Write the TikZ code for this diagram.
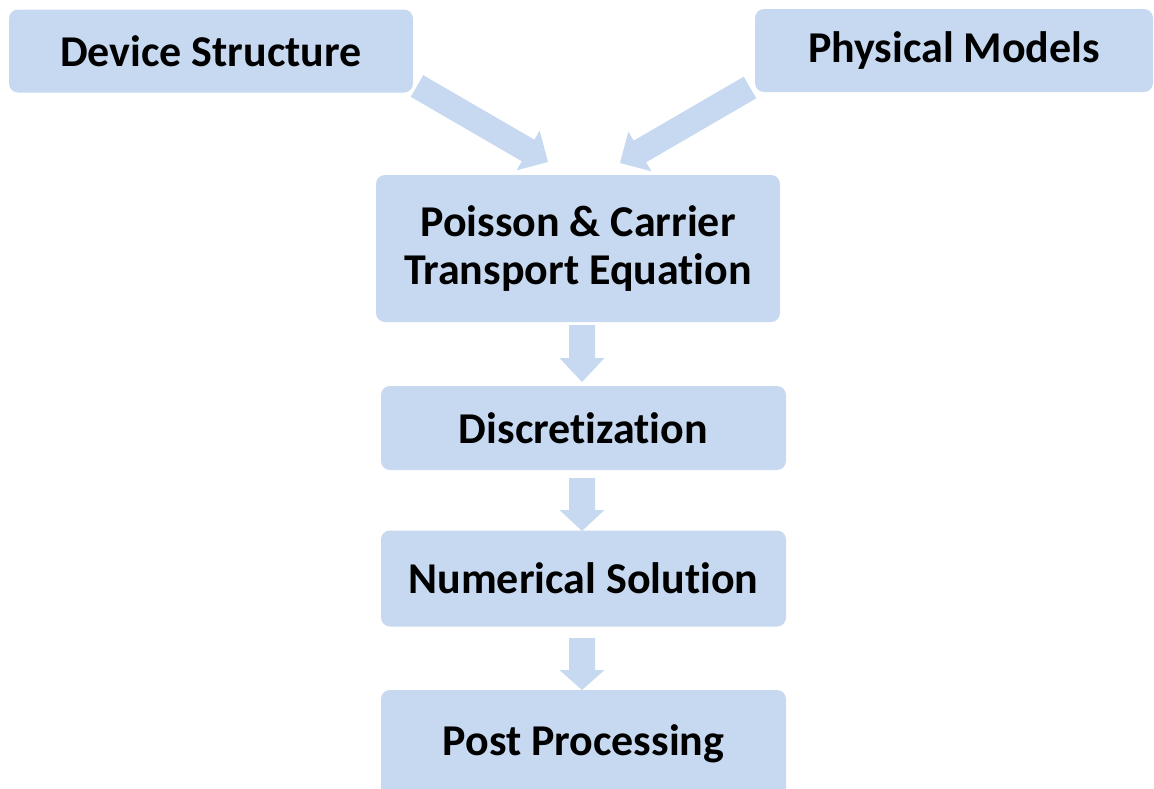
\documentclass[tikz,border=0pt]{standalone}
\usepackage{fontspec}
\setmainfont[Ligatures={NoCommon}]{Carlito}
\usetikzlibrary{calc}
\definecolor{boxblue}{HTML}{C6D9F1}
\tikzset{
  box/.style={fill=boxblue, rounded corners=9pt, inner sep=0pt, align=center,
    font=\bfseries\fontsize{44}{48}\selectfont, text=black},
  arrowfill/.style={fill=boxblue}
}
\newcommand\blockarrow[5]{%
  \coordinate (ba-h) at ($(#2)!#5!(#1)$);
  \fill[arrowfill] ($(#1)!#3!90:(#2)$) -- ($(ba-h)!#3!90:(#2)$) -- ($(ba-h)!#4!90:(#2)$)
    -- (#2) -- ($(ba-h)!#4!-90:(#2)$) -- ($(ba-h)!#3!-90:(#2)$) -- ($(#1)!#3!-90:(#2)$) -- cycle;}
\begin{document}
\begin{tikzpicture}[x=1pt,y=-1pt]
\useasboundingbox (0,0) rectangle (1154,788);
\clip (0,0) rectangle (1154,788);
\node[box, minimum width=404pt, minimum height=83pt] (dev) at (211,51) {Device Structure};
\node[box, minimum width=398pt, minimum height=83pt] (phys) at (954,50.5) {Physical Models};
\node[box, minimum width=404pt, minimum height=147pt] (pois) at (578,248.5) {Poisson \& Carrier\\Transport Equation};
\node[box, minimum width=405pt, minimum height=84pt] (disc) at (583.5,428) {Discretization};
\node[box, minimum width=405pt, minimum height=96pt] (num) at (583.5,578.5) {Numerical Solution};
\node[box, minimum width=405pt, minimum height=108pt] (post) at (583.5,744) {Post Processing};
% connectors
\coordinate (a1s) at (417,86);  \coordinate (a1e) at (548,162);
\coordinate (a2s) at (750,87.5); \coordinate (a2e) at (620,163);
\coordinate (a3s) at (582,325); \coordinate (a3e) at (582,382);
\coordinate (a4s) at (582,478); \coordinate (a4e) at (582,531);
\coordinate (a5s) at (582,638); \coordinate (a5e) at (582,690);
\blockarrow{a1s}{a1e}{12.5pt}{23pt}{23pt}
\blockarrow{a2s}{a2e}{12.5pt}{23pt}{23pt}
\blockarrow{a3s}{a3e}{13pt}{22.5pt}{24pt}
\blockarrow{a4s}{a4e}{13pt}{22.5pt}{21pt}
\blockarrow{a5s}{a5e}{13pt}{22.5pt}{20pt}
\end{tikzpicture}
\end{document}
